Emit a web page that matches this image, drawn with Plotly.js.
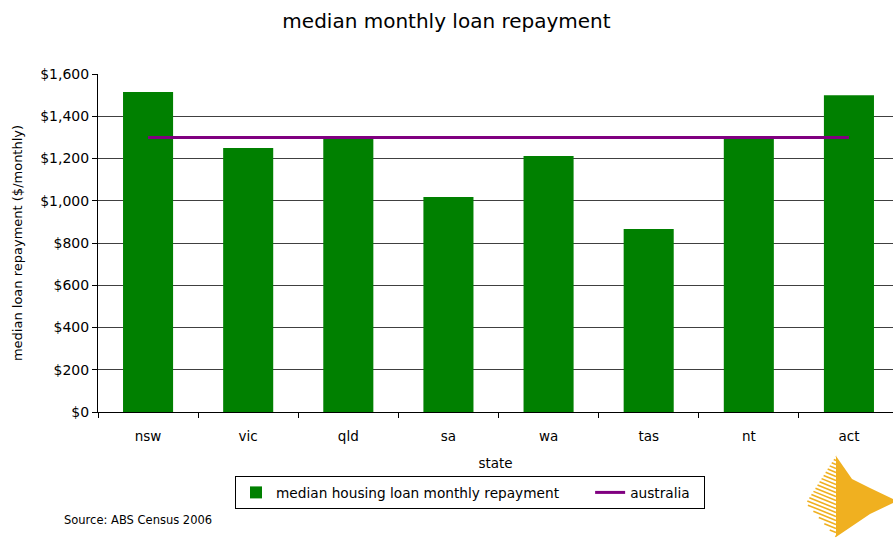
<!DOCTYPE html>
<html>
<head>
<meta charset="utf-8">
<script src="https://cdn.plot.ly/plotly-3.0.1.min.js"></script>
<style>html,body{margin:0;padding:0;background:#fff;} #chart{width:893px;height:543px;}</style>
</head>
<body>
<div id="chart"></div>
<script>
var states = ["nsw", "vic", "qld", "sa", "wa", "tas", "nt", "act"];
var repayment = [1515, 1250, 1293, 1018, 1212, 866, 1297, 1500];
var australia = [1300, 1300, 1300, 1300, 1300, 1300, 1300, 1300];
var yTickVals = [0, 200, 400, 600, 800, 1000, 1200, 1400, 1600];
var yTickText = ["$0", "$200", "$400", "$600", "$800", "$1,000", "$1,200", "$1,400", "$1,600"];

var W = 893, H = 543;
var M = {l: 98, r: 0, t: 74, b: 131};
function px(x) { return (x - M.l) / (W - M.l - M.r); }
function py(y) { return (H - M.b - y) / (H - M.t - M.b); }

var FONT = "DejaVu Sans, Verdana, sans-serif";

// logo shapes
var gold = "#F0B020";
var shapes = [];
var solid = [[836,456],[852,479],[870,488],[893,499],[893,503],[870,514],[836,537]];
var d = "M" + solid.map(function(p){return px(p[0]) + "," + py(p[1]);}).join(" L") + " Z";
shapes.push({type: "path", xref: "paper", yref: "paper", path: d, fillcolor: gold, line: {width: 0}, layer: "above"});
// hatched left part
var tri = [[836,456],[806,503],[836,537]];
function clipSeg(p0, p1) {
  var t0 = 0, t1 = 1;
  var dx = p1[0]-p0[0], dy = p1[1]-p0[1];
  var cx = (tri[0][0]+tri[1][0]+tri[2][0])/3, cy = (tri[0][1]+tri[1][1]+tri[2][1])/3;
  for (var i = 0; i < 3; i++) {
    var a = tri[i], b = tri[(i+1)%3];
    var nx = -(b[1]-a[1]), ny = b[0]-a[0];
    var sgn = ((cx-a[0])*nx + (cy-a[1])*ny) > 0 ? 1 : -1;
    nx *= sgn; ny *= sgn;
    var num = (p0[0]-a[0])*nx + (p0[1]-a[1])*ny;
    var den = dx*nx + dy*ny;
    if (den === 0) { if (num < 0) return null; continue; }
    var t = -num/den;
    if (den > 0) { if (t > t0) t0 = t; } else { if (t < t1) t1 = t; }
  }
  if (t0 >= t1) return null;
  return [[p0[0]+dx*t0, p0[1]+dy*t0], [p0[0]+dx*t1, p0[1]+dy*t1]];
}
for (var k = -10; k < 120; k += 4) {
  var s = clipSeg([790, 440 + k], [850, 440 + k + 24]);
  if (s) {
    shapes.push({type: "line", xref: "paper", yref: "paper",
      x0: px(s[0][0]), y0: py(s[0][1]), x1: px(s[1][0]), y1: py(s[1][1]),
      line: {color: gold, width: 1.6}, layer: "above"});
  }
}

var traces = [
  {type: "bar", x: states, y: repayment, name: "median housing loan monthly repayment\u00a0\u00a0\u00a0\u00a0\u00a0\u00a0",
   marker: {color: "#008000"}, hoverinfo: "skip"},
  {type: "scatter", mode: "lines", x: states, y: australia, name: "australia\u00a0\u00a0",
   line: {color: "#800080", width: 3}, hoverinfo: "skip"}
];

var layout = {
  width: W, height: H,
  margin: M,
  paper_bgcolor: "#fff", plot_bgcolor: "#fff",
  font: {family: FONT, color: "#000", size: 14},
  title: {text: "median monthly loan repayment", font: {family: FONT, size: 20, color: "#000"},
          x: 0.5, xanchor: "center", y: 1 - 21/H, yanchor: "middle"},
  bargap: 0.5,
  showlegend: true,
  legend: {orientation: "h", x: px(470), xanchor: "center", y: py(476), yanchor: "top",
           bordercolor: "#000", borderwidth: 1, font: {family: FONT, size: 13.7},
           itemwidth: 30, tracegroupgap: 0},
  xaxis: {type: "category", range: [-0.5, 7.44], showline: true, linecolor: "#000", linewidth: 1,
          ticks: "outside", tickson: "boundaries", ticklen: 5, tickcolor: "#000",
          showgrid: false, zeroline: false, ticklabelstandoff: 12,
          tickfont: {family: FONT, size: 13.5},
          title: {text: "state", font: {family: FONT, size: 13.5}, standoff: 15}},
  yaxis: {range: [0, 1600], tickvals: yTickVals, ticktext: yTickText,
          showline: true, linecolor: "#000", linewidth: 1, ticks: "outside", ticklen: 5, tickcolor: "#000",
          showgrid: true, gridcolor: "#404040", gridwidth: 1, zeroline: false,
          tickfont: {family: FONT, size: 14},
          title: {text: "median loan repayment ($/monthly)", font: {family: FONT, size: 13}, standoff: 14}},
  shapes: shapes,
  annotations: [
    {text: "Source: ABS Census 2006", xref: "paper", yref: "paper", x: px(62), y: py(520),
     xanchor: "left", yanchor: "middle", showarrow: false, font: {family: FONT, size: 11.5, color: "#000"}}
  ]
};

Plotly.newPlot("chart", traces, layout, {displayModeBar: false, staticPlot: true});
</script>
</body>
</html>
